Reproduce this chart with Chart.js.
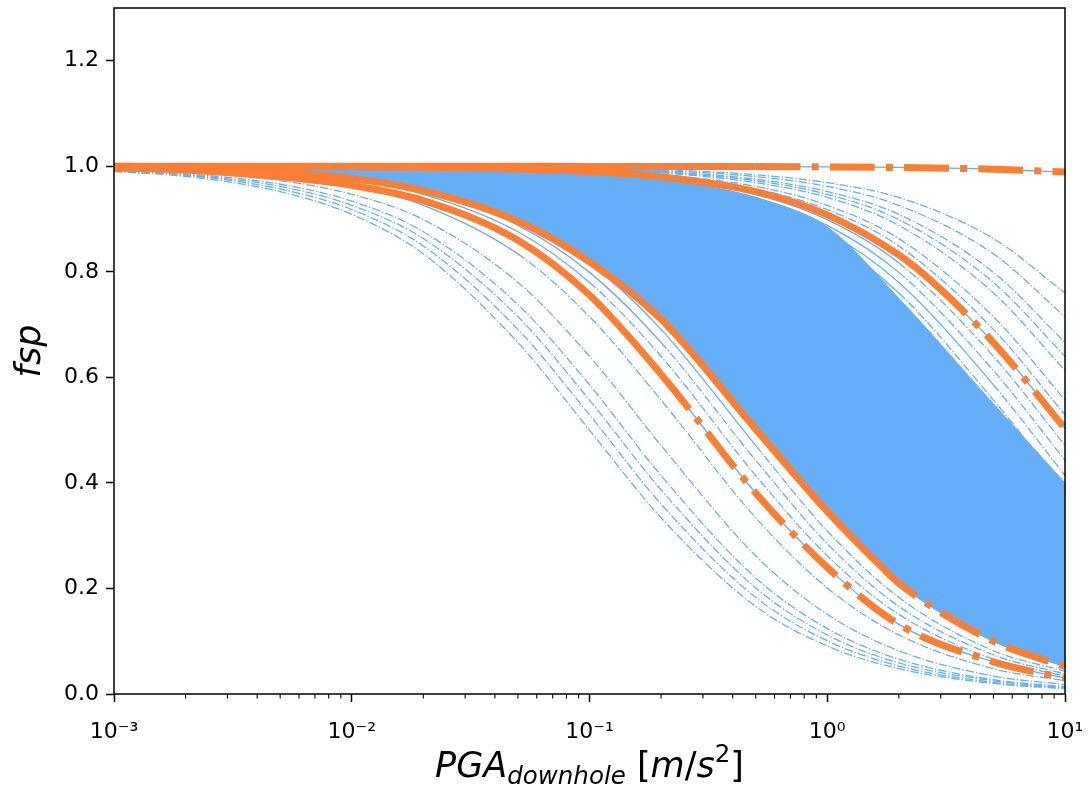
<!DOCTYPE html>
<html><head><meta charset="utf-8">
<script src="https://cdn.jsdelivr.net/npm/chart.js@4.4.1/dist/chart.umd.min.js"></script>
<style>html,body{margin:0;padding:0;background:#fff;}canvas{display:block;}</style>
</head><body>
<canvas id="c" width="1092" height="789"></canvas>
<script>
// ---------- data ----------
const pga = [0.001, 0.002, 0.005, 0.01, 0.02, 0.05, 0.1, 0.2, 0.5, 1, 2, 5, 10];
const xTickValues = [0.001, 0.01, 0.1, 1, 10];
const xTickLabels = ['10\u207B\u00B3', '10\u207B\u00B2', '10\u207B\u00B9', '10\u2070', '10\u00B9'];
const yTickValues = [0, 0.2, 0.4, 0.6, 0.8, 1.0, 1.2];
const xTitleMain = 'PGA', xTitleSub = 'downhole', yTitle = 'fsp';

// highlighted (orange) curves
const orangeA = [1.000, 1.000, 1.000, 1.000, 1.000, 0.9999, 0.9998, 0.9996, 0.9994, 0.9989, 0.9978, 0.9944, 0.989];
const orangeB = [0.9999, 0.9998, 0.9995, 0.999, 0.998, 0.995, 0.990, 0.980, 0.952, 0.908, 0.832, 0.666, 0.503];
const orangeC = [0.998, 0.996, 0.989, 0.977, 0.954, 0.896, 0.819, 0.710, 0.502, 0.346, 0.210, 0.100, 0.052];
const orangeD = [0.997, 0.993, 0.980, 0.964, 0.935, 0.860, 0.756, 0.606, 0.381, 0.240, 0.132, 0.061, 0.030];
const orangeBreakX = [0.5, 2.8, 1.7, 0.2];
const orangeBreakY = [0.9994, 0.779, 0.240, 0.606];

// upper edge of the dense blue band (lower edge = orangeC)
const bandUpper = [0.9999, 0.9997, 0.9994, 0.9987, 0.9975, 0.994, 0.988, 0.975, 0.940, 0.885, 0.750, 0.550, 0.400];

// individual blue curves
const blueF1 = [0.990, 0.981, 0.952, 0.909, 0.834, 0.666, 0.500, 0.334, 0.166, 0.091, 0.048, 0.020, 0.010];
const blueF2 = [0.991, 0.983, 0.957, 0.918, 0.849, 0.691, 0.529, 0.360, 0.183, 0.101, 0.053, 0.022, 0.011];
const blueF3 = [0.992, 0.984, 0.962, 0.926, 0.863, 0.715, 0.557, 0.387, 0.201, 0.112, 0.059, 0.025, 0.012];
const blueF4 = [0.993, 0.986, 0.966, 0.934, 0.876, 0.738, 0.586, 0.414, 0.220, 0.124, 0.066, 0.027, 0.014];
const blueF5 = [0.994, 0.989, 0.973, 0.947, 0.899, 0.780, 0.640, 0.471, 0.262, 0.151, 0.082, 0.034, 0.018];
const blueM1 = [0.996, 0.992, 0.981, 0.962, 0.926, 0.834, 0.715, 0.557, 0.334, 0.201, 0.112, 0.048, 0.025];
const blueM2 = [0.997, 0.994, 0.986, 0.973, 0.947, 0.876, 0.780, 0.640, 0.414, 0.262, 0.151, 0.066, 0.034];
const blueM3 = [0.998, 0.995, 0.988, 0.976, 0.952, 0.888, 0.799, 0.666, 0.443, 0.285, 0.166, 0.074, 0.038];
const blueM4 = [0.998, 0.996, 0.989, 0.978, 0.957, 0.899, 0.817, 0.691, 0.471, 0.309, 0.183, 0.082, 0.043];
const blueU1 = [0.9998, 0.9996, 0.9991, 0.998, 0.9965, 0.991, 0.983, 0.966, 0.918, 0.849, 0.738, 0.529, 0.360];
const blueU2 = [0.9998, 0.9997, 0.9992, 0.998, 0.997, 0.992, 0.984, 0.969, 0.926, 0.863, 0.760, 0.557, 0.387];
const blueU3 = [0.9999, 0.9997, 0.9993, 0.9986, 0.997, 0.993, 0.986, 0.973, 0.934, 0.876, 0.780, 0.586, 0.414];
const blueU4 = [0.9999, 0.9997, 0.9994, 0.9987, 0.9975, 0.994, 0.988, 0.976, 0.941, 0.888, 0.799, 0.613, 0.443];
const blueU5 = [0.9999, 0.9998, 0.9994, 0.9989, 0.9978, 0.994, 0.989, 0.978, 0.947, 0.899, 0.817, 0.640, 0.471];
const blueT1 = [0.9999, 0.9998, 0.9996, 0.9991, 0.9982, 0.9956, 0.991, 0.9825, 0.957, 0.918, 0.849, 0.691, 0.529];
const blueT2 = [0.9999, 0.9998, 0.9996, 0.9992, 0.9984, 0.996, 0.992, 0.984, 0.962, 0.926, 0.863, 0.715, 0.557];
const blueT3 = [0.9999, 0.9999, 0.9997, 0.9994, 0.9987, 0.9968, 0.9937, 0.9876, 0.969, 0.941, 0.888, 0.760, 0.613];
const blueT4 = [0.9999, 0.9999, 0.9997, 0.9994, 0.9989, 0.9972, 0.9944, 0.9889, 0.9726, 0.9468, 0.899, 0.780, 0.640];
const blueT5 = [1.000, 0.9999, 0.9997, 0.9995, 0.999, 0.9975, 0.995, 0.990, 0.9755, 0.952, 0.909, 0.799, 0.666];
const blueT6 = [1.000, 0.9999, 0.9998, 0.9996, 0.9992, 0.998, 0.996, 0.992, 0.9805, 0.962, 0.926, 0.834, 0.715];
const blueT7 = [1.000, 0.9999, 0.9998, 0.9997, 0.9994, 0.9984, 0.9968, 0.9937, 0.984, 0.969, 0.941, 0.863, 0.760];
const blueCurves = [blueF1, blueF2, blueF3, blueF4, blueF5, blueM1, blueM2, blueM3, blueM4,
                    blueU1, blueU2, blueU3, blueU4, blueU5, blueT1, blueT2, blueT3, blueT4, blueT5, blueT6, blueT7];
// PGA beyond which each blue curve is extrapolated (dash-dot)
const blueBreaks = [0.001, 0.001, 0.001, 0.001, 0.001, 0.05, 0.1, 0.2, 0.5,
                    5, 2, 5, 2, 2, 0.2, 0.2, 0.2, 0.2, 0.2, 0.2, 0.2];

// ---------- styling ----------
const BLUE = '#64AFF8';
const ORANGE = '#FA7F35';
const DASH_O = [44.8, 11.2, 7, 11.2];
const DASH_B = [8.3, 2.1, 1.3, 2.1];
const FONT = '"DejaVu Sans", "Liberation Sans", sans-serif';

function pts(vals, brkX, brkY) {
  const p = pga.map((x, i) => ({x: x, y: vals[i]}));
  if (brkX !== undefined && brkY !== undefined && !pga.includes(brkX)) {
    p.push({x: brkX, y: brkY});
    p.sort((a, b) => a.x - b.x);
  }
  return p;
}
function lineDS(vals, color, width, dash, brk, order, brkY) {
  return {
    data: pts(vals, brk, brkY),
    borderColor: color, borderWidth: width, pointRadius: 0, fill: false,
    cubicInterpolationMode: 'monotone', borderCapStyle: 'butt', borderJoinStyle: 'round',
    order: order,
    segment: { borderDash: ctx => (ctx.p0.parsed.x >= brk * 0.9999 ? dash : undefined) }
  };
}

const orangeCurves = [orangeA, orangeB, orangeC, orangeD];
const datasets = [];
datasets.push({data: pts(bandUpper), borderColor: BLUE, borderWidth: 1, backgroundColor: BLUE,
  fill: '+1', pointRadius: 0, cubicInterpolationMode: 'monotone', order: 5});
datasets.push({data: pts(orangeC, orangeBreakX[2], orangeBreakY[2]), borderColor: BLUE, borderWidth: 1,
  fill: false, pointRadius: 0, cubicInterpolationMode: 'monotone', order: 5});
blueCurves.forEach((v, i) => datasets.push(lineDS(v, BLUE, 1.3, DASH_B, blueBreaks[i], 3)));
orangeCurves.forEach((v, i) => datasets.push(lineDS(v, BLUE, 1.3, [], Infinity, 2, undefined)));
orangeCurves.forEach((v, i) => datasets.push(lineDS(v, ORANGE, 7, DASH_O, orangeBreakX[i], 0, orangeBreakY[i])));

const decor = {
  id: 'decor',
  afterDraw(chart) {
    const {ctx, chartArea: a, scales} = chart;
    const xs = scales.x;
    ctx.save();
    ctx.strokeStyle = '#000';
    ctx.lineWidth = 1.1;
    for (let k = -3; k < 1; k++) {
      for (let m = 2; m <= 9; m++) {
        const px = xs.getPixelForValue(m * Math.pow(10, k));
        ctx.beginPath(); ctx.moveTo(px, a.bottom); ctx.lineTo(px, a.bottom + 4.5); ctx.stroke();
      }
    }
    ctx.lineWidth = 1.5;
    ctx.strokeRect(a.left, a.top, a.right - a.left, a.bottom - a.top);

    const big = 35, small = 24.5;
    const parts = [
      {t: xTitleMain, f: 'italic ' + big + 'px ' + FONT, dy: 0},
      {t: xTitleSub, f: 'italic ' + small + 'px ' + FONT, dy: 7},
      {t: ' [', f: big + 'px ' + FONT, dy: 0},
      {t: 'm', f: 'italic ' + big + 'px ' + FONT, dy: 0},
      {t: '/', f: big + 'px ' + FONT, dy: 0},
      {t: 's', f: 'italic ' + big + 'px ' + FONT, dy: 0},
      {t: '2', f: small + 'px ' + FONT, dy: -15},
      {t: ']', f: big + 'px ' + FONT, dy: 0}
    ];
    let total = 0;
    parts.forEach(p => { ctx.font = p.f; p.w = ctx.measureText(p.t).width; total += p.w; });
    let x = (a.left + a.right) / 2 - total / 2;
    const base = 777;
    ctx.fillStyle = '#000';
    ctx.textBaseline = 'alphabetic';
    ctx.textAlign = 'left';
    parts.forEach(p => { ctx.font = p.f; ctx.fillText(p.t, x, base + p.dy); x += p.w; });
    ctx.restore();
  }
};

new Chart(document.getElementById('c'), {
  type: 'line',
  data: { datasets: datasets },
  options: {
    responsive: false, animation: false, events: [],
    layout: { padding: { left: 0, top: 8, right: 27, bottom: 0 } },
    plugins: { legend: { display: false }, tooltip: { enabled: false } },
    scales: {
      x: {
        type: 'logarithmic', min: 0.001, max: 10,
        afterBuildTicks: s => { s.ticks = xTickValues.map(v => ({value: v, major: true})); },
        afterFit: s => { s.height = 95; s.paddingLeft = 0; s.paddingRight = 0; },
        grid: { display: true, drawOnChartArea: false, drawTicks: true, tickLength: 8, tickWidth: 1.5, tickColor: '#000' },
        border: { display: false },
        ticks: { autoSkip: false, maxRotation: 0, padding: 17, color: '#000',
                 font: { family: FONT, size: 22 },
                 callback: (v, i) => xTickLabels[i] }
      },
      y: {
        type: 'linear', min: 0, max: 1.3,
        afterBuildTicks: s => { s.ticks = yTickValues.map(v => ({value: v})); },
        afterFit: s => { s.width = 114; s.paddingTop = 0; s.paddingBottom = 0; },
        grid: { display: true, drawOnChartArea: false, drawTicks: true, tickLength: 8, tickWidth: 1.5, tickColor: '#000' },
        border: { display: false },
        ticks: { padding: 7, color: '#000', font: { family: FONT, size: 22 },
                 callback: v => Number(v).toFixed(1) },
        title: { display: true, text: yTitle, color: '#000', padding: { top: 10, bottom: 0 },
                 font: { family: FONT, size: 35, style: 'italic' } }
      }
    }
  },
  plugins: [decor]
});
</script>
</body></html>
